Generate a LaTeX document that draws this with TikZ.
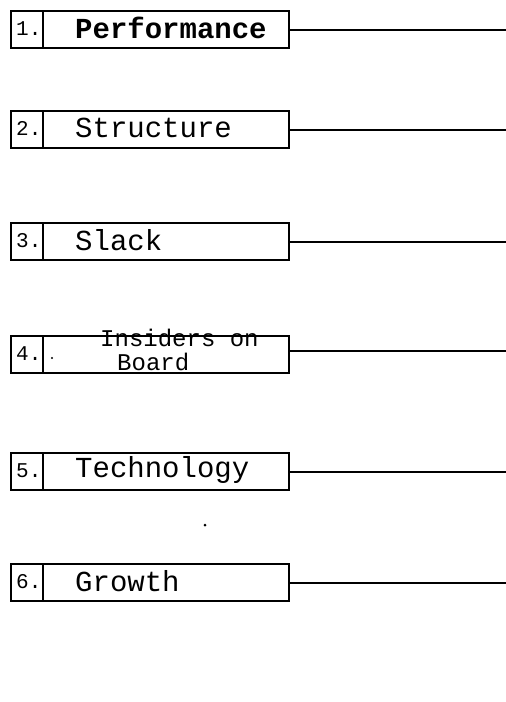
\documentclass[tikz,border=0pt]{standalone}
\usepackage{fontspec}
\setmonofont{Liberation Mono}
\begin{document}
\begin{tikzpicture}[x=1pt,y=-1pt,
  box/.style={draw, line width=2.4pt, rectangle, anchor=north west,
    minimum width=278pt, minimum height=37pt, inner sep=0pt},
  divider/.style={line width=2pt},
  num/.style={anchor=west, font=\ttfamily\fontsize{21}{24}\selectfont, inner sep=0pt},
  lbl/.style={anchor=west, font=\ttfamily\fontsize{29}{28}\selectfont, inner sep=0pt},
  small/.style={anchor=base west, font=\ttfamily\fontsize{24}{24}\selectfont, inner sep=0pt},
  lead/.style={line width=2.4pt}]
\useasboundingbox (0,0) rectangle (506,702);

% five single-line factor boxes, each with a number cell and a lead line
\foreach \i/\y/\txt in {1/10/{\bfseries Performance},2/110/Structure,3/222/Slack,5/452/Technology,6/563/Growth}{
  \node[box] (b\i) at (10,\y) {};
  \draw[divider] ([xshift=33pt]b\i.north west) -- ([xshift=33pt]b\i.south west);
  \node[num] (n\i) at ([xshift=6pt,yshift=1pt]b\i.west) {\i.};
  \node[lbl] (t\i) at ([xshift=65pt,yshift=2pt]b\i.west) {\txt};
  \coordinate (e\i) at (506,0 |- b\i.east);
  \draw[lead] (b\i.east) -- (e\i);
}

% box 4 carries a two-line label
\node[box] (b4) at (10,335) {};
\draw[divider] ([xshift=33pt]b4.north west) -- ([xshift=33pt]b4.south west);
\node[num] (n4) at ([xshift=6pt,yshift=1pt]b4.west) {4.};
\node[small] (t4a) at (100,346) {Insiders on};
\node[small] (t4b) at (117,370) {Board};
\coordinate (e4) at (506,351);
\draw[lead] (b4.east |- e4) -- (e4);

% stray specks
\fill (52,358) circle (1.2pt);
\fill (205,525) circle (1.5pt);
\end{tikzpicture}
\end{document}
